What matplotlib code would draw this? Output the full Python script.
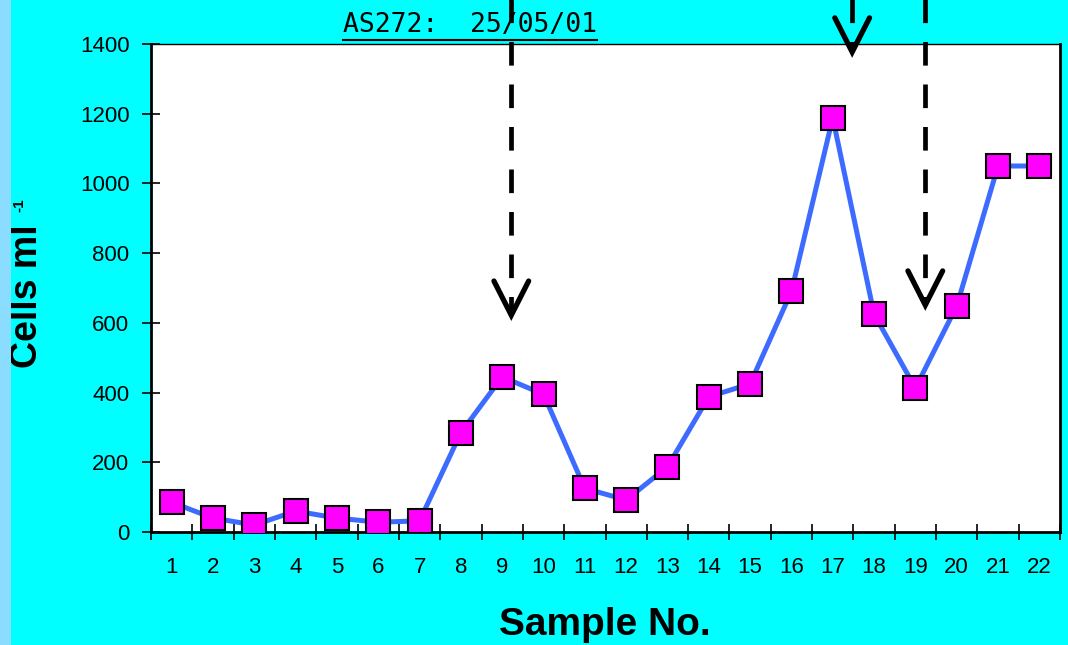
import matplotlib.pyplot as plt
from matplotlib.patches import Rectangle
from matplotlib.lines import Line2D

plt.rcParams['font.family'] = ['Liberation Sans', 'DejaVu Sans']

# cell counts per sample
samples = list(range(1, 23))
cells = [85, 40, 20, 60, 40, 28, 32, 285, 445, 395, 125, 92, 187, 388, 425,
         690, 1188, 625, 413, 648, 1050, 1050]

# dashed arrows: x position, tip height, start height (above the axes)
arrow_x = [9.22, 17.47, 19.24]
arrow_tip = [622, 1377, 651]
arrow_top = 1530

title_text = 'AS272:  25/05/01'
bg = '#00FFFF'

fig = plt.figure(figsize=(10.68, 6.45), dpi=100, facecolor=bg)
ax = fig.add_axes([151 / 1068, 1 - 532 / 645, 909 / 1068, 488 / 645])
ax.set_facecolor('white')

ax.plot(samples, cells, color='#3D6BFF', lw=3.6, marker='s', markersize=17,
        markerfacecolor='#FF00FF', markeredgecolor='black', markeredgewidth=1.5,
        zorder=3)

ax.set_xlim(0.5, 22.5)
ax.set_ylim(0, 1400)
ax.set_yticks(range(0, 1401, 200))

# ticks sit between categories, labels in the middle
ax.set_xticks([i + 0.5 for i in range(0, 23)])
ax.set_xticklabels([])
ax.set_xticks(samples, minor=True)
ax.set_xticklabels([str(s) for s in samples], minor=True)
ax.tick_params(axis='x', which='major', direction='inout', length=11, width=1.2)
ax.tick_params(axis='x', which='minor', length=0, pad=18, labelsize=16)
ax.tick_params(axis='y', direction='inout', length=13, width=1.2, pad=9,
               labelsize=16)

for side in ['left', 'bottom', 'right']:
    ax.spines[side].set_linewidth(2)
ax.spines['top'].set_linewidth(1)

# dashed arrows with open heads
for x, tip in zip(arrow_x, arrow_tip):
    ax.plot([x, x], [arrow_top, tip + 15], color='black', lw=3.4,
            linestyle=(0, (5, 4)), clip_on=False, zorder=5)
    ax.plot([x - 0.42, x, x + 0.42], [tip + 98, tip, tip + 98],
            color='black', lw=3.8, solid_capstyle='round',
            solid_joinstyle='miter', clip_on=False, zorder=5)

fig.text(605 / 1068, 1 - 625 / 645, 'Sample No.', ha='center', va='center',
         fontsize=28, fontweight='bold')
fig.text(45 / 1068, 1 - 368 / 645, 'Cells ml', rotation=90,
         ha='right', va='bottom', fontsize=27, fontweight='bold')
fig.text(12 / 1068, 1 - 212 / 645, '-1', rotation=90,
         ha='left', va='bottom', fontsize=11, fontweight='bold')

title = fig.text(470 / 1068, 1 - 25 / 645, title_text, ha='center',
                 va='center', fontsize=19, family='DejaVu Sans Mono')
fig.canvas.draw()
bb = title.get_window_extent().transformed(fig.transFigure.inverted())
fig.add_artist(Line2D([bb.x0, bb.x1], [1 - 40 / 645, 1 - 40 / 645],
                      color='black', lw=1.5))

# pale strip down the left edge
fig.add_artist(Rectangle((0, 0), 11 / 1068, 1, transform=fig.transFigure,
                         facecolor='#8ADDFF', edgecolor='none', zorder=10))

fig.savefig('out.png', dpi=100, facecolor=bg)
